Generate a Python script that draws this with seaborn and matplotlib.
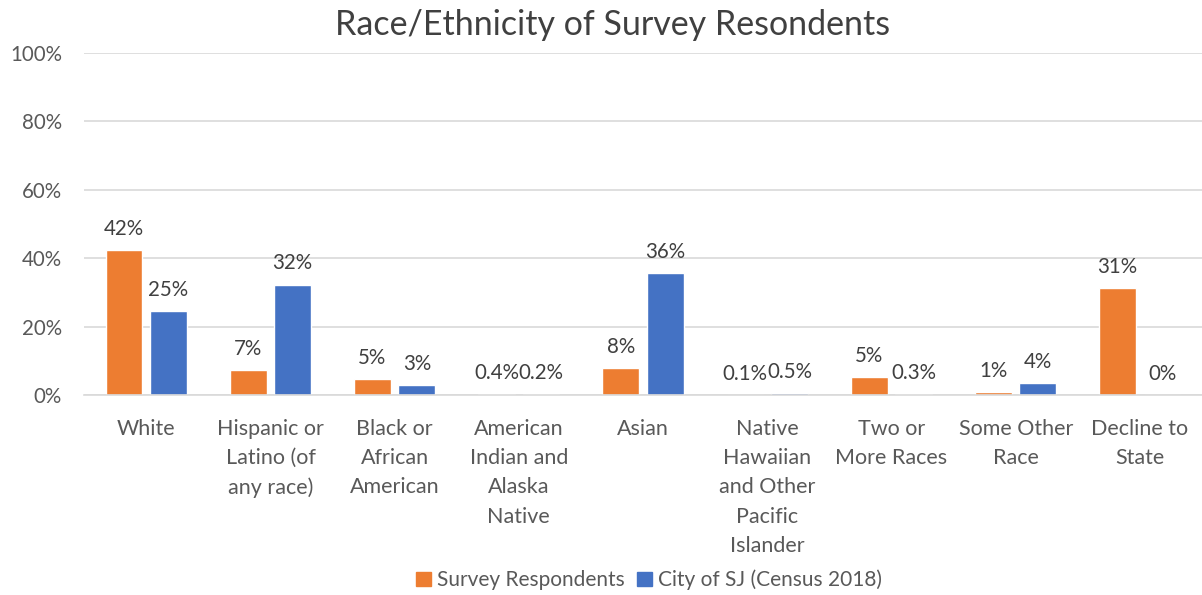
import pandas as pd
import numpy as np
import matplotlib
matplotlib.use("Agg")
import matplotlib.pyplot as plt
import seaborn as sns

sns.set_theme(style="white")
plt.rcParams['font.family'] = ['Lato', 'DejaVu Sans']

# --- dane ---
categories = ["White", "Hispanic or\nLatino (of\nany race)", "Black or\nAfrican\nAmerican",
              "American\nIndian and\nAlaska\nNative", "Asian",
              "Native\nHawaiian\nand Other\nPacific\nIslander", "Two or\nMore Races",
              "Some Other\nRace", "Decline to\nState"]
survey = [42.3, 7.2, 4.6, 0.4, 7.9, 0.1, 5.2, 0.8, 31.4]
census = [24.6, 32.3, 2.9, 0.2, 35.7, 0.5, 0.3, 3.5, 0.0]
survey_labels = ["42%", "7%", "5%", "0.4%", "8%", "0.1%", "5%", "1%", "31%"]
census_labels = ["25%", "32%", "3%", "0.2%", "36%", "0.5%", "0.3%", "4%", "0%"]
series = ["Survey Respondents", "City of SJ (Census 2018)"]
colors = ["#ED7D31", "#4472C4"]

df = pd.DataFrame({
    "category": categories * 2,
    "value": survey + census,
    "series": [series[0]] * len(categories) + [series[1]] * len(categories),
})

text_col = "#595959"
grid_col = "#D9D9D9"

fig = plt.figure(figsize=(12.02, 5.95), dpi=100)
ax = fig.add_axes([0.07, 0.336, 0.93, 0.575])

sns.barplot(data=df, x="category", y="value", hue="series", palette=colors,
            width=0.715, gap=0.17, saturation=1, ax=ax, order=categories,
            hue_order=series, legend=False)

for cont, labs in zip(ax.containers, [survey_labels, census_labels]):
    ax.bar_label(cont, labels=labs, padding=8, fontsize=14.8, color="#404040")

ax.set_ylim(0, 100)
ax.set_xlim(-0.5, len(categories) - 0.5)
ax.set_yticks(range(0, 101, 20))
ax.set_yticklabels([f"{v}%" for v in range(0, 101, 20)])
ax.yaxis.grid(True, color=grid_col, linewidth=1.2)
ax.set_axisbelow(True)
for s in ["top", "right", "left"]:
    ax.spines[s].set_visible(False)
ax.spines["bottom"].set_color(grid_col)
ax.spines["bottom"].set_linewidth(1.2)
ax.tick_params(axis="both", length=0, colors=text_col)
ax.tick_params(axis="x", pad=17, labelsize=15.5)
ax.tick_params(axis="y", pad=16, labelsize=14.8)
for t in ax.get_xticklabels():
    t.set_linespacing(1.58)
ax.set_xlabel("")
ax.set_ylabel("")

fig.suptitle("Race/Ethnicity of Survey Resondents", x=0.51, y=0.985, fontsize=24.5,
             color="#404040")

handles = [plt.Rectangle((0, 0), 1, 1, color=c) for c in colors]
fig.legend(handles, series, loc="center", bbox_to_anchor=(0.54, 0.025), ncol=2,
           frameon=False, fontsize=15, labelcolor=text_col, handlelength=0.7,
           handleheight=0.7, handletextpad=0.3, columnspacing=0.6)

plt.savefig("out.png", dpi=100)
